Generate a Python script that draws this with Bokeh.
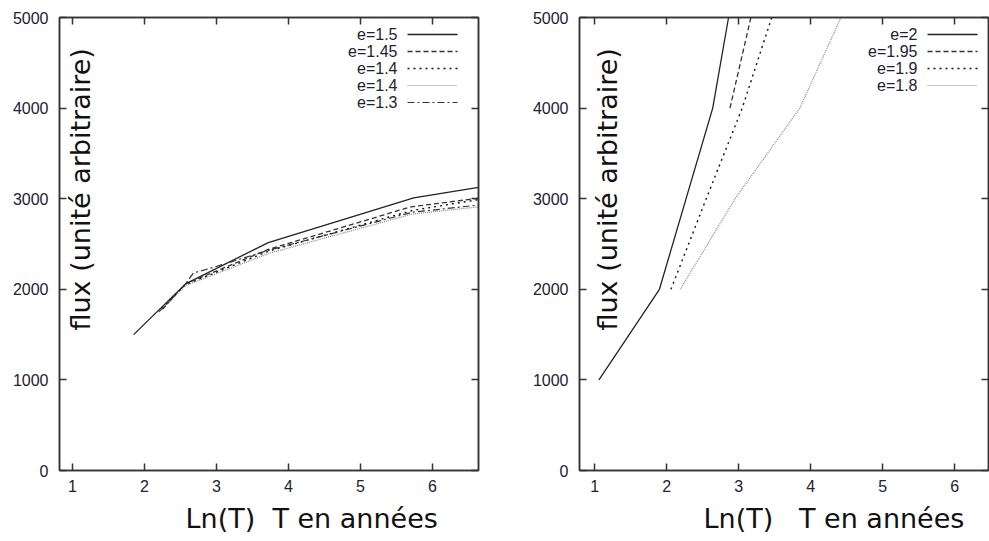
import math
from bokeh.plotting import figure
from bokeh.models import Range1d, LinearAxis, FixedTicker, Label, Arrow, CustomJSTickFormatter, Title
from bokeh.layouts import row
from bokeh.embed import file_html
from bokeh.resources import INLINE

# ---------------- data ----------------
x_ticks = [1, 2, 3, 4, 5, 6]
y_ticks = [0, 1000, 2000, 3000, 4000, 5000]

left_labels = ["e=1.5", "e=1.45", "e=1.4", "e=1.4", "e=1.3"]
left_x = [
    [1.85, 2.57, 3.72, 5.74, 6.64],
    [2.25, 2.57, 3.72, 5.70, 6.64],
    [2.25, 2.57, 3.72, 5.72, 6.64],
    [2.30, 2.57, 3.72, 5.72, 6.64],
    [2.20, 2.57, 2.68, 2.95, 3.72, 5.72, 6.64],
]
left_y = [
    [1500, 2060, 2515, 3010, 3125],
    [1780, 2060, 2440, 2910, 3005],
    [1790, 2050, 2420, 2870, 2990],
    [1830, 2040, 2395, 2830, 2910],
    [1750, 2060, 2180, 2240, 2430, 2850, 2930],
]

right_labels = ["e=2", "e=1.95", "e=1.9", "e=1.8"]
right_x = [
    [1.06, 1.90, 2.64, 2.86],
    [2.88, 3.17],
    [2.06, 2.55, 3.05, 3.46],
    [2.19, 2.95, 3.85, 4.42],
]
right_y = [
    [1000, 2000, 4000, 5000],
    [4000, 5000],
    [2000, 3000, 4000, 5000],
    [2000, 3000, 4000, 5000],
]

x_title_left = "Ln(T)\u00a0\u00a0T en années"
x_title_right = "Ln(T)\u00a0\u00a0\u00a0T en années"
y_title = "flux (unité arbitraire)"

# ---------------- styles ----------------
styles = [
    dict(line_color="#222222", line_dash="solid", line_width=1.3),
    dict(line_color="#333333", line_dash="5 3", line_width=1.3),
    dict(line_color="#111111", line_dash="2 4", line_width=1.4),
    dict(line_color="#888888", line_dash="1 1", line_width=1.2),
    dict(line_color="#333333", line_dash="7 3 2 3", line_width=1.2),
]

FRAME = "#333333"
TICK_TXT = "#222233"
FONT_T = "Liberation Sans"
FONT_L = "DejaVu Sans"
H = 541
FRAME_H = 453


def make_fig(width, xr, mbl, mbr, xs, ys, labels, xtitle, xt_off, ylab_dx):
    p = figure(width=width, height=H, x_range=Range1d(*xr), y_range=Range1d(0, 5000),
               output_backend="svg", toolbar_location=None,
               min_border_left=mbl, min_border_right=mbr,
               min_border_top=17, min_border_bottom=H - 17 - FRAME_H)
    p.background_fill_color = "white"
    p.border_fill_color = "white"
    p.outline_line_color = FRAME
    p.outline_line_width = 1.5
    p.xgrid.visible = False
    p.ygrid.visible = False

    for ax, tk in ((p.xaxis[0], x_ticks), (p.yaxis[0], y_ticks)):
        ax.ticker = FixedTicker(ticks=tk)
        ax.minor_tick_line_color = None
        ax.major_tick_in = 7
        ax.major_tick_out = 0
        ax.major_tick_line_color = FRAME
        ax.major_tick_line_width = 1.5
        ax.axis_line_color = FRAME
        ax.axis_line_width = 1.5
        ax.major_label_text_font = FONT_T
        ax.major_label_text_font_size = "16px"
        ax.major_label_text_color = TICK_TXT
    p.xaxis.major_label_standoff = 9
    p.yaxis.major_label_standoff = 11

    # mirrored ticks (gnuplot style)
    blank = CustomJSTickFormatter(code="return ''")
    for loc, tk in (("above", x_ticks), ("right", y_ticks)):
        ax = LinearAxis(ticker=FixedTicker(ticks=tk), formatter=blank,
                        major_tick_in=7, major_tick_out=0, major_label_standoff=0,
                        major_tick_line_color=FRAME, major_tick_line_width=1.5,
                        minor_tick_line_color=None, axis_line_color=FRAME,
                        axis_line_width=1.5, major_label_text_font_size="1px")
        p.add_layout(ax, loc)

    # series
    for i, (xv, yv) in enumerate(zip(xs, ys)):
        p.line(xv, yv, **styles[i])

    # legend (text on the left, sample on the right, gnuplot style)
    for i, lab in enumerate(labels):
        yy = FRAME_H - 17 - 17 * i
        p.add_layout(Label(x=338, y=yy, x_units="screen", y_units="screen", text=lab,
                           text_align="right", text_baseline="middle",
                           text_font=FONT_T, text_font_size="16px",
                           text_color=TICK_TXT))
        p.add_layout(Arrow(end=None, x_start=348, y_start=yy, x_end=398, y_end=yy,
                           start_units="screen", end_units="screen", **styles[i]))

    # y title drawn inside the frame, as in the reference
    p.add_layout(Label(x=ylab_dx, y=140, x_units="screen", y_units="screen", text=y_title,
                       angle=math.pi / 2, text_align="left", text_baseline="middle",
                       text_font=FONT_L, text_font_size="27px", text_color="#111111"))
    # x title below the axis, starting right of the frame's left edge
    p.add_layout(Title(text=xtitle, align="left", offset=xt_off, standoff=12,
                       text_font=FONT_L, text_font_size="27px", text_font_style="normal",
                       text_color="#111111"), "below")
    return p


p1 = make_fig(500, (0.82, 6.64), 59, 22, left_x, left_y, left_labels, x_title_left, 126, 21)
p2 = make_fig(489, (0.79, 6.47), 79, 1, right_x, right_y, right_labels, x_title_right, 124, 28)

layout = row(p1, p2)
open("out.html", "w").write(file_html(layout, INLINE))
